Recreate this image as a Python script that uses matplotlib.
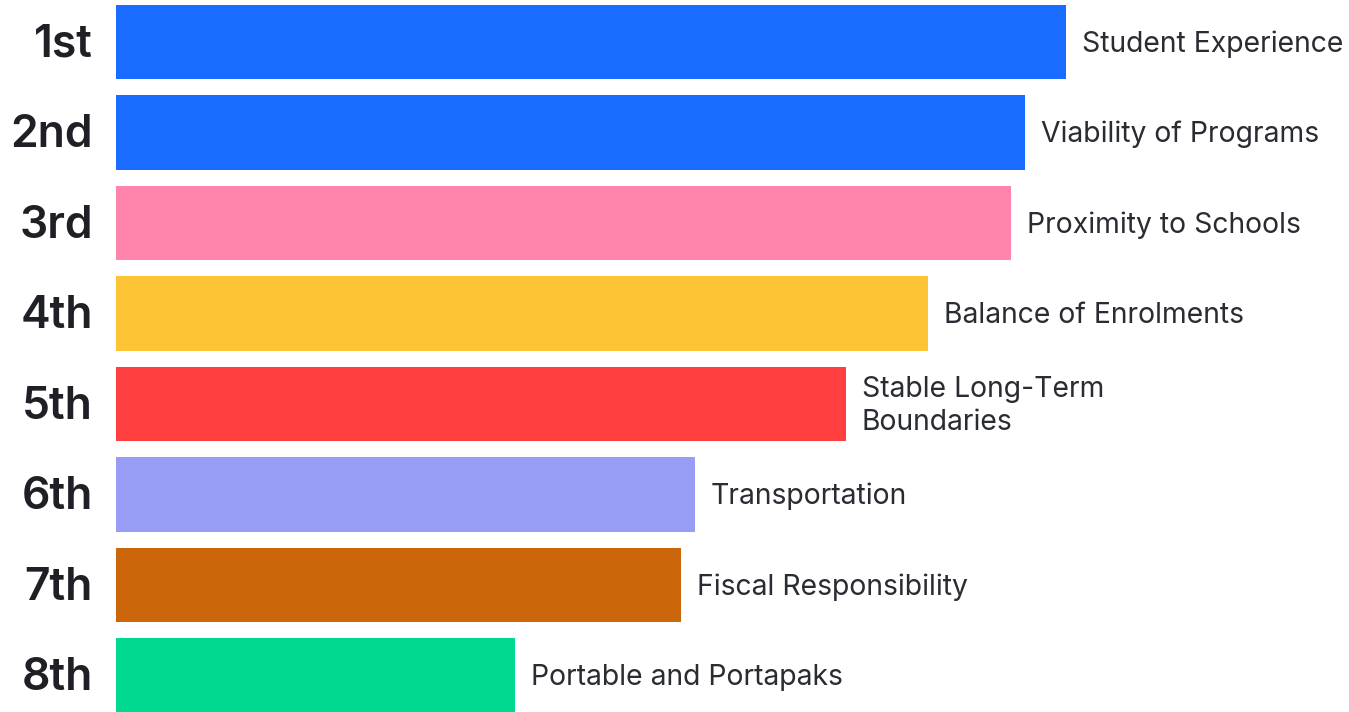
import matplotlib
matplotlib.use("Agg")
import matplotlib.pyplot as plt

ranks = ["1st", "2nd", "3rd", "4th", "5th", "6th", "7th", "8th"]
categories = ["Student Experience", "Viability of Programs", "Proximity to Schools",
              "Balance of Enrolments", "Stable Long-Term\nBoundaries", "Transportation",
              "Fiscal Responsibility", "Portable and Portapaks"]
values = [950, 909, 895, 812, 730, 579, 565, 399]
colors = ["#1A6BFF", "#1A6BFF", "#FF85AD", "#FDC536", "#FF3F3F", "#979CF5", "#CC660A", "#00D98F"]

W, H = 1349, 712
fig = plt.figure(figsize=(W / 100, H / 100), dpi=100)
left = 116
ax = fig.add_axes([left / W, 0, 1 - left / W, 1])
pos = list(range(len(values)))
ax.barh(pos, values, height=0.82, color=colors)
ax.set_xlim(0, W - left)
ax.set_ylim((H - 42) / 90.5, -42 / 90.5)
ax.axis("off")

txt_color = "#2A2C33"
for i, (v, c) in enumerate(zip(values, categories)):
    ax.text(v + 16, i + 0.02, c, va="center", ha="left", fontsize=20.4,
            family=["Inter", "DejaVu Sans"], color=txt_color, linespacing=1.3)
for i, r in enumerate(ranks):
    ax.text(-23, i + 0.03, r, va="center", ha="right", fontsize=32, fontweight="semibold",
            family=["Inter", "DejaVu Sans"], color="#1E2026", clip_on=False)

fig.savefig("out.png", dpi=100)
